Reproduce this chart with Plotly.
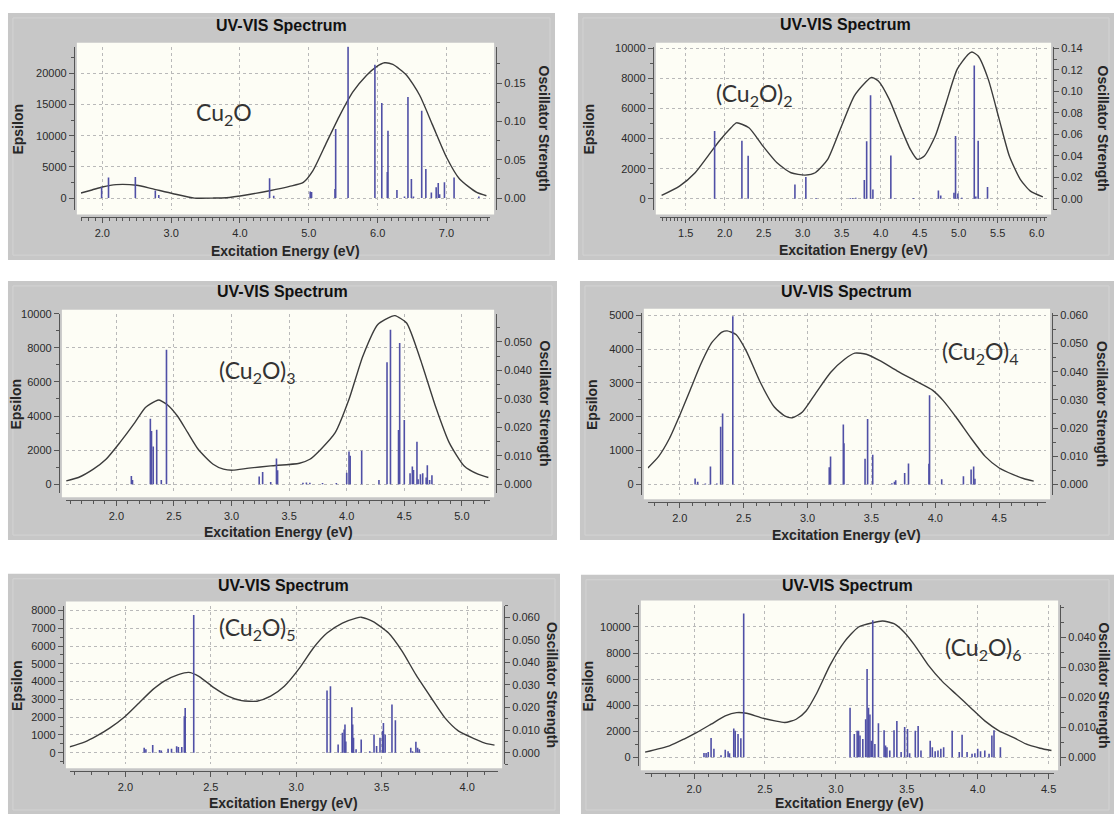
import plotly.graph_objects as go

W, H = 1116, 814

# ------------------------------------------------------------------ data
# Panel 1 : Cu2O
p1_curve_x = [1.69, 1.85, 2.0, 2.2, 2.5, 2.72, 3.03, 3.34, 3.6, 3.8, 4.11, 4.43, 4.72, 4.92, 5.06, 5.26,
              5.45, 5.64, 5.84, 5.98, 6.10, 6.22, 6.42, 6.61, 6.80, 7.0, 7.19, 7.44, 7.58]
p1_curve_eps = [810, 1300, 1780, 2160, 2050, 1510, 700, 0, 0, 50, 540, 1180, 1880, 2530, 4410, 8980,
                13280, 17040, 19730, 21075, 21720, 21450, 19730, 16505, 11670, 6560, 3060, 915, 376]
p1_stick_x = [1.99, 2.09, 2.48, 2.77, 2.82, 4.43, 4.49, 5.02, 5.04, 5.38, 5.39, 5.57, 5.96, 6.06, 6.14,
              6.15, 6.28, 6.39, 6.44, 6.49, 6.52, 6.64, 6.70, 6.78, 6.85, 6.88, 6.90, 6.97, 7.11, 7.47]
p1_stick_f = [0.0144, 0.0267, 0.0275, 0.010, 0.004, 0.026, 0.003, 0.0087, 0.0080, 0.012, 0.090, 0.198,
              0.174, 0.124, 0.034, 0.088, 0.0105, 0.002, 0.132, 0.025, 0.002, 0.114, 0.038, 0.0074,
              0.014, 0.0196, 0.005, 0.0205, 0.027, 0.002]

# Panel 2 : (Cu2O)2
p2_curve_x = [1.19, 1.42, 1.62, 1.80, 1.93, 2.08, 2.15, 2.31, 2.49, 2.67, 2.85, 3.03, 3.16, 3.32, 3.48,
              3.66, 3.80, 3.88, 3.97, 4.11, 4.25, 4.38, 4.47, 4.56, 4.70, 4.84, 4.98, 5.12, 5.17, 5.25,
              5.38, 5.52, 5.65, 5.79, 5.92, 6.08]
p2_curve_eps = [220, 840, 1730, 2950, 3840, 4720, 5050, 4720, 3500, 2390, 1730, 1575, 1730, 2620, 4610,
                6830, 7720, 8070, 7830, 6610, 4830, 3280, 2620, 2840, 4170, 6390, 8600, 9600, 9760, 9490,
                7940, 5280, 2840, 1290, 510, 130]
p2_stick_x = [1.87, 2.22, 2.30, 2.90, 3.04, 3.17, 3.61, 3.64, 3.68, 3.79, 3.82, 3.87, 3.90, 4.13, 4.18,
              4.42, 4.74, 4.77, 4.94, 4.96, 4.99, 5.04, 5.20, 5.22, 5.25, 5.37]
p2_stick_f = [0.063, 0.054, 0.040, 0.0133, 0.0203, 0.0008, 0.0008, 0.0008, 0.001, 0.0174, 0.0536, 0.0963,
              0.0087, 0.0403, 0.0005, 0.0008, 0.0078, 0.003, 0.0056, 0.0584, 0.005, 0.001, 0.124, 0.002,
              0.054, 0.011]

# Panel 3 : (Cu2O)3
p3_curve_x = [1.565, 1.67, 1.80, 1.91, 2.03, 2.16, 2.25, 2.34, 2.37, 2.44, 2.53, 2.62, 2.71, 2.84, 2.93,
              3.01, 3.15, 3.34, 3.59, 3.68, 3.77, 3.90, 4.02, 4.14, 4.27, 4.39, 4.42, 4.52, 4.64, 4.77,
              4.89, 5.02, 5.14, 5.23]
p3_curve_eps = [195, 390, 880, 1460, 2440, 3610, 4490, 4880, 4940, 4680, 4000, 3020, 2050, 1170, 880,
                820, 940, 1070, 1230, 1460, 2010, 3020, 4980, 7510, 9370, 9850, 9890, 9460, 7320, 4590,
                2440, 1070, 585, 390]
p3_stick_x = [2.13, 2.14, 2.295, 2.305, 2.32, 2.35, 2.39, 2.435, 3.24, 3.27, 3.34, 3.39, 3.40, 3.62,
              3.65, 3.68, 3.79, 3.91, 4.00, 4.02, 4.03, 4.13, 4.28, 4.35, 4.38, 4.45, 4.46, 4.50, 4.55,
              4.57, 4.58, 4.61, 4.62, 4.64, 4.66, 4.69, 4.70, 4.72, 4.74]
p3_stick_f = [0.0029, 0.0015, 0.023, 0.0187, 0.0132, 0.0191, 0.0015, 0.0472, 0.0027, 0.0043, 0.0008,
              0.009, 0.0049, 0.0005, 0.0006, 0.0005, 0.0004, 0.0004, 0.004, 0.0115, 0.010, 0.0117,
              0.0015, 0.0428, 0.0542, 0.019, 0.0496, 0.0225, 0.0038, 0.0062, 0.005, 0.0149, 0.0017,
              0.0035, 0.0038, 0.0023, 0.0066, 0.0015, 0.0031]

# Panel 4 : (Cu2O)4
p4_curve_x = [1.75, 1.835, 1.92, 2.0, 2.08, 2.165, 2.25, 2.33, 2.37, 2.44, 2.52, 2.63, 2.74, 2.82, 2.88,
              2.96, 3.07, 3.18, 3.29, 3.37, 3.46, 3.57, 3.70, 3.84, 3.98, 4.06, 4.17, 4.28, 4.39, 4.50,
              4.61, 4.69, 4.77]
p4_curve_eps = [487, 830, 1365, 2045, 2780, 3560, 4190, 4500, 4540, 4430, 3950, 3020, 2290, 2030, 1970,
                2140, 2730, 3310, 3700, 3880, 3850, 3650, 3360, 3070, 2780, 2485, 1950, 1365, 830, 487,
                292, 175, 97]
p4_stick_x = [2.12, 2.14, 2.20, 2.24, 2.29, 2.32, 2.335, 2.415, 3.17, 3.18, 3.28, 3.285, 3.45, 3.47, 3.51,
              3.66, 3.68, 3.69, 3.76, 3.79, 3.95, 3.955, 4.05, 4.22, 4.28, 4.30, 4.31]
p4_stick_f = [0.0021, 0.001, 0.0003, 0.0064, 0.0003, 0.0205, 0.0252, 0.0597, 0.0061, 0.0099, 0.0213,
              0.0146, 0.0091, 0.0232, 0.0105, 0.0004, 0.001, 0.0015, 0.0041, 0.0074, 0.0073, 0.0316,
              0.0018, 0.0029, 0.0053, 0.0064, 0.002]

# Panel 5 : (Cu2O)5
p5_curve_x = [1.67, 1.76, 1.83, 1.91, 2.0, 2.08, 2.16, 2.225, 2.31, 2.37, 2.43, 2.52, 2.60, 2.68, 2.77,
              2.85, 2.93, 3.02, 3.10, 3.18, 3.27, 3.35, 3.38, 3.45, 3.54, 3.62, 3.70, 3.79, 3.87, 3.95,
              4.04, 4.10, 4.16]
p5_curve_eps = [318, 598, 935, 1400, 2056, 2800, 3550, 4020, 4390, 4520, 4300, 3645, 3180, 2930, 2900,
                3180, 3740, 4770, 5890, 6730, 7290, 7570, 7625, 7380, 6730, 5700, 4390, 3080, 1960, 1215,
                800, 560, 430]
p5_stick_x = [2.11, 2.12, 2.16, 2.20, 2.21, 2.25, 2.27, 2.30, 2.31, 2.33, 2.345, 2.35, 2.40, 3.18, 3.20,
              3.245, 3.27, 3.28, 3.285, 3.29, 3.325, 3.33, 3.335, 3.35, 3.38, 3.43, 3.455, 3.47, 3.49,
              3.505, 3.51, 3.52, 3.56, 3.58, 3.67, 3.68, 3.70, 3.71, 3.72]
p5_stick_f = [0.0022, 0.0015, 0.0034, 0.0012, 0.001, 0.0018, 0.0018, 0.0029, 0.0026, 0.0025, 0.0162,
              0.0198, 0.061, 0.0275, 0.0294, 0.0037, 0.0088, 0.0103, 0.0125, 0.005, 0.0201, 0.0125,
              0.0066, 0.0015, 0.0059, 0.0007, 0.0081, 0.003, 0.0066, 0.0096, 0.0132, 0.0081, 0.0213,
              0.0144, 0.0022, 0.0007, 0.0049, 0.0022, 0.0015]

# Panel 6 : (Cu2O)6
p6_curve_x = [1.655, 1.83, 1.93, 2.02, 2.12, 2.22, 2.30, 2.37, 2.47, 2.57, 2.64, 2.72, 2.79, 2.86, 2.96,
              3.06, 3.16, 3.26, 3.33, 3.41, 3.48, 3.555, 3.65, 3.75, 3.85, 3.95, 4.05, 4.15, 4.25, 4.34,
              4.44, 4.52]
p6_curve_eps = [380, 886, 1390, 1900, 2530, 3165, 3420, 3370, 3040, 2785, 2660, 2910, 3540, 4810, 7090,
                8860, 10000, 10330, 10455, 10250, 9620, 8610, 7090, 5820, 4810, 3800, 2785, 2025, 1520,
                1010, 685, 505]
p6_stick_x = [2.07, 2.085, 2.10, 2.12, 2.14, 2.19, 2.22, 2.24, 2.25, 2.28, 2.29, 2.31, 2.33, 2.35, 3.10,
              3.13, 3.15, 3.16, 3.17, 3.19, 3.21, 3.22, 3.23, 3.24, 3.25, 3.26, 3.275, 3.30, 3.34, 3.35,
              3.36, 3.38, 3.41, 3.43, 3.46, 3.485, 3.505, 3.52, 3.56, 3.58, 3.60, 3.665, 3.68, 3.70, 3.72,
              3.74, 3.76, 3.82, 3.87, 3.89, 3.925, 3.96, 3.98, 4.00, 4.02, 4.05, 4.08, 4.10, 4.115, 4.16]
p6_stick_f = [0.0014, 0.0014, 0.0017, 0.0064, 0.0028, 0.0006, 0.0025, 0.002, 0.0013, 0.0096, 0.0088,
              0.0077, 0.0063, 0.0481, 0.0165, 0.0077, 0.0088, 0.0088, 0.0072, 0.0061, 0.0127, 0.0295,
              0.0165, 0.0143, 0.0055, 0.0458, 0.0044, 0.0113, 0.009, 0.0039, 0.0033, 0.0022, 0.009,
              0.0121, 0.0017, 0.0101, 0.0094, 0.0013, 0.0088, 0.0104, 0.0022, 0.0055, 0.0033, 0.002,
              0.0022, 0.0028, 0.0033, 0.0088, 0.0017, 0.0075, 0.0017, 0.0011, 0.0013, 0.0028, 0.002,
              0.0022, 0.0011, 0.0072, 0.009, 0.0033]
p6_right_ticks = [0.0, 0.01, 0.02, 0.03, 0.04]

compound_labels = ["Cu<sub>2</sub>O", "(Cu<sub>2</sub>O)<sub>2</sub>", "(Cu<sub>2</sub>O)<sub>3</sub>",
                   "(Cu<sub>2</sub>O)<sub>4</sub>", "(Cu<sub>2</sub>O)<sub>5</sub>", "(Cu<sub>2</sub>O)<sub>6</sub>"]
panel_title = "UV-VIS Spectrum"
x_title = "Excitation Energy (eV)"
yl_title = "Epsilon"
yr_title = "Oscillator Strength"

curves = [(p1_curve_x, p1_curve_eps), (p2_curve_x, p2_curve_eps), (p3_curve_x, p3_curve_eps),
          (p4_curve_x, p4_curve_eps), (p5_curve_x, p5_curve_eps), (p6_curve_x, p6_curve_eps)]
sticks = [(p1_stick_x, p1_stick_f), (p2_stick_x, p2_stick_f), (p3_stick_x, p3_stick_f),
          (p4_stick_x, p4_stick_f), (p5_stick_x, p5_stick_f), (p6_stick_x, p6_stick_f)]

# ------------------------------------------------------------------ layout geometry (pixels)
panels = [
    dict(gray=(8, 10, 556, 259), white=(77, 40, 495, 213), xcal=(102.5, 2.0, 447.3, 7.0),
         ylcal=(196.5, 0, 71, 20000), yrcal=(196.5, 0, 80.7, 0.15),
         xdt=1.0, xmin=0.1, yldt=5000, ylmin=2500, yrdt=0.05, yrmin=0.025, yrfmt='.2f',
         title_y=23, xt_y=250, eps_x=18, osc_x=545, lab=(224.5, 111)),
    dict(gray=(579, 10, 1116, 259), white=(657, 40, 1053, 213), xcal=(687, 1.5, 1038.5, 6.0),
         ylcal=(197.2, 0, 45.7, 10000), yrcal=(197.2, 0, 45.7, 0.14),
         xdt=0.5, xmin=0.05, yldt=2000, ylmin=1000, yrdt=0.02, yrmin=0.01, yrfmt='.2f',
         title_y=22, xt_y=249, eps_x=590, osc_x=1105, lab=(755, 92)),
    dict(gray=(8, 280, 558, 541), white=(62, 309, 495, 498), xcal=(116.6, 2.0, 462.7, 5.0),
         ylcal=(484.7, 0, 347.4, 8000), yrcal=(484.7, 0, 341.3, 0.05),
         xdt=0.5, xmin=0.1, yldt=2000, ylmin=1000, yrdt=0.01, yrmin=0.005, yrfmt='.3f',
         title_y=291, xt_y=533, eps_x=16, osc_x=546, lab=(257, 371)),
    dict(gray=(581, 280, 1116, 541), white=(645, 308, 1052, 500), xcal=(681, 2.0, 1001, 4.5),
         ylcal=(485, 0, 314.6, 5000), yrcal=(485, 0, 314.6, 0.06),
         xdt=0.5, xmin=0.1, yldt=1000, ylmin=500, yrdt=0.01, yrmin=0.005, yrfmt='.3f',
         title_y=291, xt_y=536, eps_x=593, osc_x=1104, lab=(982, 352)),
    dict(gray=(8, 575, 561, 818), white=(66, 603, 503, 771), xcal=(125.6, 2.0, 468, 4.0),
         ylcal=(755.3, 0, 612, 8000), yrcal=(755.3, 0, 618.7, 0.06),
         xdt=0.5, xmin=0.1, yldt=1000, ylmin=500, yrdt=0.01, yrmin=0.005, yrfmt='.3f',
         title_y=587, xt_y=806, eps_x=17, osc_x=553, lab=(257, 630)),
    dict(gray=(582, 576, 1116, 818), white=(642, 602, 1060, 773), xcal=(695.3, 2.0, 1050.5, 4.5),
         ylcal=(759.7, 0, 628.6, 10000), yrcal=(759.7, 0, 639.3, 0.04),
         xdt=0.5, xmin=0.1, yldt=2000, ylmin=1000, yrdt=0.01, yrmin=0.005, yrfmt='.3f',
         yr_ticks=p6_right_ticks,
         title_y=587, xt_y=806, eps_x=590, osc_x=1106, lab=(985, 650)),
]

Y_SHIFT = -3
GRAY = '#c7c7c7'
BEVEL = '#d3d3d3'
PLOTBG = '#fdfdf5'
AXC = '#555555'
TXT = '#262626'
FONT = 'Liberation Sans, Arial, sans-serif'
CURVE = '#3c3c3c'
STICK = '#5050a6'


def lin(cal, p):
    pa, va, pb, vb = cal
    return va + (p - pa) * (vb - va) / (pb - pa)


def px(x):
    return x / W


def py(y):
    return 1 - (y + Y_SHIFT) / H


fig = go.Figure()
shapes, annotations = [], []
layout = {}

for i, P in enumerate(panels):
    n = i + 1
    xname = 'x' if n == 1 else f'x{n}'
    xkey = 'xaxis' if n == 1 else f'xaxis{n}'
    il, ir = 2 * i + 1, 2 * i + 2
    ylname = 'y' if il == 1 else f'y{il}'
    ylkey = 'yaxis' if il == 1 else f'yaxis{il}'
    yrname = f'y{ir}'
    yrkey = f'yaxis{ir}'

    gx0, gy0, gx1, gy1 = P['gray']
    wx0, wy0, wx1, wy1 = P['white']
    dx0, dx1 = wx0 + 4, wx1 - 4
    dy0, dy1 = wy0 + 4, wy1 - 4

    shapes.append(dict(type='rect', xref='paper', yref='paper', x0=px(gx0), x1=px(gx1),
                       y0=max(py(gy1), 0), y1=py(gy0), fillcolor=GRAY, line=dict(width=0),
                       layer='below'))
    # faint inner bevel line of the panel frame
    shapes.append(dict(type='rect', xref='paper', yref='paper', x0=px(gx0 + 5), x1=px(gx1 - 5),
                       y0=max(py(gy1 - 5), 0.004), y1=py(gy0 + 5), fillcolor='rgba(0,0,0,0)',
                       line=dict(width=1, color=BEVEL), layer='below'))
    shapes.append(dict(type='rect', xref='paper', yref='paper', x0=px(wx0), x1=px(wx1),
                       y0=py(wy1), y1=py(wy0), fillcolor=PLOTBG, line=dict(width=0), layer='below'))

    tickfont = dict(family=FONT, size=11, color='#2a2a2a')
    common = dict(showline=True, linecolor=AXC, linewidth=1, ticks='outside', ticklen=5,
                  tickcolor=AXC, tickwidth=1, zeroline=False, tickfont=tickfont, fixedrange=True)

    layout[xkey] = dict(domain=[px(dx0), px(dx1)],
                        range=[lin(P['xcal'], dx0), lin(P['xcal'], dx1)],
                        anchor='free', position=py(wy1 + 3), tickmode='linear', tick0=0,
                        dtick=P['xdt'], tickformat='.1f', showgrid=True, gridcolor='#b9b9b9',
                        griddash='dot', gridwidth=1,
                        minor=dict(tickmode='linear', tick0=0, dtick=P['xmin'], ticks='outside',
                                   ticklen=3, tickcolor=AXC, showgrid=False),
                        **common)
    layout[ylkey] = dict(domain=[py(dy1), py(dy0)],
                         range=[lin(P['ylcal'], dy1), lin(P['ylcal'], dy0)],
                         anchor='free', position=px(wx0 - 3), side='left', tickmode='linear',
                         tick0=0, dtick=P['yldt'], tickformat='d', showgrid=True,
                         gridcolor='#b9b9b9', griddash='dot', gridwidth=1,
                         minor=dict(tickmode='linear', tick0=0, dtick=P['ylmin'], ticks='outside',
                                    ticklen=3, tickcolor=AXC, showgrid=False),
                         **common)
    yr = dict(overlaying=ylname, range=[lin(P['yrcal'], dy1), lin(P['yrcal'], dy0)],
              anchor='free', position=px(wx1 + 2), side='right', tickformat=P['yrfmt'],
              showgrid=False,
              minor=dict(tickmode='linear', tick0=0, dtick=P['yrmin'], ticks='outside',
                         ticklen=3, tickcolor=AXC, showgrid=False),
              **common)
    if 'yr_ticks' in P:
        yr.update(tickmode='array', tickvals=P['yr_ticks'])
    else:
        yr.update(tickmode='linear', tick0=0, dtick=P['yrdt'])
    layout[yrkey] = yr

    # sticks (oscillator strengths) on the right axis
    sx, sy = [], []
    for xv, fv in zip(*sticks[i]):
        sx += [xv, xv, None]
        sy += [0, fv, None]
    fig.add_trace(go.Scatter(x=sx, y=sy, mode='lines', xaxis=xname, yaxis=yrname,
                             line=dict(color=STICK, width=1.6), hoverinfo='skip', showlegend=False))
    # epsilon curve on the left axis
    cx, cy = curves[i]
    fig.add_trace(go.Scatter(x=cx, y=cy, mode='lines', xaxis=xname, yaxis=ylname,
                             line=dict(color=CURVE, width=1.4, shape='spline', smoothing=0.6),
                             showlegend=False))

    gcx = (gx0 + gx1) / 2
    wcx = (wx0 + wx1) / 2
    wcy = (wy0 + wy1) / 2
    annotations.append(dict(text=f'<b>{panel_title}</b>', x=px(gcx), y=py(P['title_y']),
                            xref='paper', yref='paper', showarrow=False, xanchor='center',
                            yanchor='middle', font=dict(family=FONT, size=16, color='#111111')))
    annotations.append(dict(text=f'<b>{x_title}</b>', x=px(wcx), y=py(P['xt_y']),
                            xref='paper', yref='paper', showarrow=False, xanchor='center',
                            yanchor='middle', font=dict(family=FONT, size=14, color=TXT)))
    annotations.append(dict(text=f'<b>{yl_title}</b>', x=px(P['eps_x']), y=py(wcy),
                            xref='paper', yref='paper', showarrow=False, textangle=-90,
                            xanchor='center', yanchor='middle',
                            font=dict(family=FONT, size=14, color=TXT)))
    annotations.append(dict(text=f'<b>{yr_title}</b>', x=px(P['osc_x']), y=py(wcy),
                            xref='paper', yref='paper', showarrow=False, textangle=90,
                            xanchor='center', yanchor='middle',
                            font=dict(family=FONT, size=14, color=TXT)))
    lx, ly = P['lab']
    annotations.append(dict(text=compound_labels[i], x=px(lx), y=py(ly), xref='paper',
                            yref='paper', showarrow=False, xanchor='center', yanchor='middle',
                            font=dict(family='Lato, Noto Sans, sans-serif', size=23,
                                      color='#333333')))

fig.update_layout(width=W, height=H, margin=dict(l=0, r=0, t=0, b=0, pad=0),
                  paper_bgcolor='white', plot_bgcolor='rgba(0,0,0,0)', showlegend=False,
                  shapes=shapes, annotations=annotations, font=dict(family=FONT), **layout)

fig.write_html('out.html', config={'displayModeBar': False, 'staticPlot': True},
               post_script="document.body.style.margin='0';document.body.style.padding='0';"
                           "document.documentElement.style.overflow='hidden';")
